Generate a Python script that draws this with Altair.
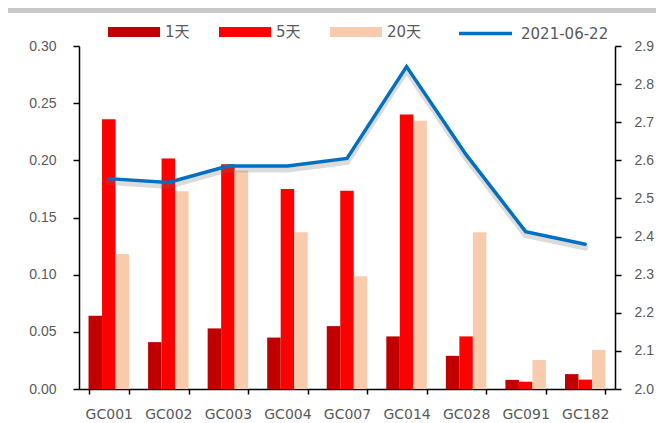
import altair as alt
import pandas as pd

categories = ["GC001", "GC002", "GC003", "GC004", "GC007", "GC014", "GC028", "GC091", "GC182"]
series_names = ["1天", "5天", "20天"]
series_colors = ["#c00000", "#ff0000", "#f8cbad"]
d1 = [0.064, 0.041, 0.053, 0.045, 0.055, 0.046, 0.029, 0.008, 0.013]
d5 = [0.236, 0.2015, 0.1965, 0.175, 0.1735, 0.240, 0.046, 0.0064, 0.0082]
d20 = [0.118, 0.173, 0.191, 0.137, 0.0986, 0.2347, 0.137, 0.0254, 0.0341]
line_name = "2021-06-22"
line_vals = [2.552, 2.542, 2.585, 2.585, 2.605, 2.846, 2.615, 2.413, 2.380]
left_ticks = [0, 0.05, 0.10, 0.15, 0.20, 0.25, 0.30]
right_ticks = [2.0, 2.1, 2.2, 2.3, 2.4, 2.5, 2.6, 2.7, 2.8, 2.9]

df = pd.DataFrame({
    "cat": categories * 3,
    "series": [s for s in series_names for _ in categories],
    "value": d1 + d5 + d20,
})
ldf = pd.DataFrame({"cat": categories, "rate": line_vals, "name": [line_name] * len(categories)})

FONT = "DejaVu Sans, Noto Sans CJK SC"
YFONT = "Liberation Sans"
TXT = "#595959"

x_enc = alt.X(
    "cat:N", sort=categories, title=None,
    scale=alt.Scale(paddingInner=0.32, paddingOuter=0.16),
    axis=alt.Axis(labelAngle=0, tickBand="extent", labelPadding=13, tickSize=5,
                  labelFont=FONT, labelFontSize=14),
)

bars = alt.Chart(df).mark_bar().encode(
    x=x_enc,
    xOffset=alt.XOffset("series:N", sort=series_names,
                        scale=alt.Scale(domain=series_names, paddingInner=0, paddingOuter=0)),
    y=alt.Y("value:Q", title=None,
            scale=alt.Scale(domain=[0, 0.3], nice=False),
            axis=alt.Axis(orient="left", values=left_ticks, format=".2f", grid=False,
                          labelPadding=17, tickSize=6, labelFont=YFONT, labelFontSize=14)),
    color=alt.Color("series:N", sort=series_names,
                    scale=alt.Scale(domain=series_names, range=series_colors),
                    legend=alt.Legend(orient="none", legendX=29, legendY=-40, direction="horizontal",
                                      title=None, symbolType="M-1,-0.19H1V0.19H-1Z", symbolSize=2704,
                                      symbolStrokeWidth=0, symbolOpacity=1, labelFontSize=15,
                                      labelColor=TXT, labelFont=FONT, columnPadding=29, labelOffset=5)),
)

shadow = alt.Chart(ldf).mark_line(color="#6e6e6e", strokeWidth=6, opacity=0.25, strokeCap="round").encode(
    x=alt.X("cat:N", sort=categories),
    y=alt.Y("rate:Q", scale=alt.Scale(domain=[2.009, 2.909], nice=False), axis=None),
)

line = alt.Chart(ldf).mark_line(strokeWidth=3.5, strokeCap="round").encode(
    x=alt.X("cat:N", sort=categories),
    y=alt.Y("rate:Q", title=None,
            scale=alt.Scale(domain=[2.0, 2.9], nice=False),
            axis=alt.Axis(orient="right", values=right_ticks, format=".1f", grid=False,
                          labelPadding=13, tickSize=6, labelFont=YFONT, labelFontSize=14)),
    stroke=alt.Stroke("name:N", scale=alt.Scale(domain=[line_name], range=["#0070c0"]),
                      legend=alt.Legend(orient="none", legendX=378, legendY=-41, title=None,
                                        symbolType="stroke", symbolSize=2809, symbolStrokeWidth=3.5,
                                        labelFontSize=15, labelColor=TXT, labelFont=FONT, labelOffset=7)),
)

topbar = alt.Chart(pd.DataFrame({"a": [0]})).mark_rule(color="#c8c8c8", strokeWidth=6).encode(
    x=alt.value(-75), x2=alt.value(600), y=alt.value(-36)
)

chart = alt.layer(topbar, bars, shadow, line).resolve_scale(
    y="independent"
).properties(
    width=536, height=343,
    autosize=alt.AutoSizeParams(type="none"),
    padding={"left": 71, "top": 38, "right": 41, "bottom": 33},
).configure_view(stroke=None).configure_axis(
    domainColor="#000000", domainWidth=1.5, tickColor="#000000", tickWidth=1.5,
    labelColor=TXT,
)

chart.save("out.html", embed_options={"renderer": "svg", "actions": False})
